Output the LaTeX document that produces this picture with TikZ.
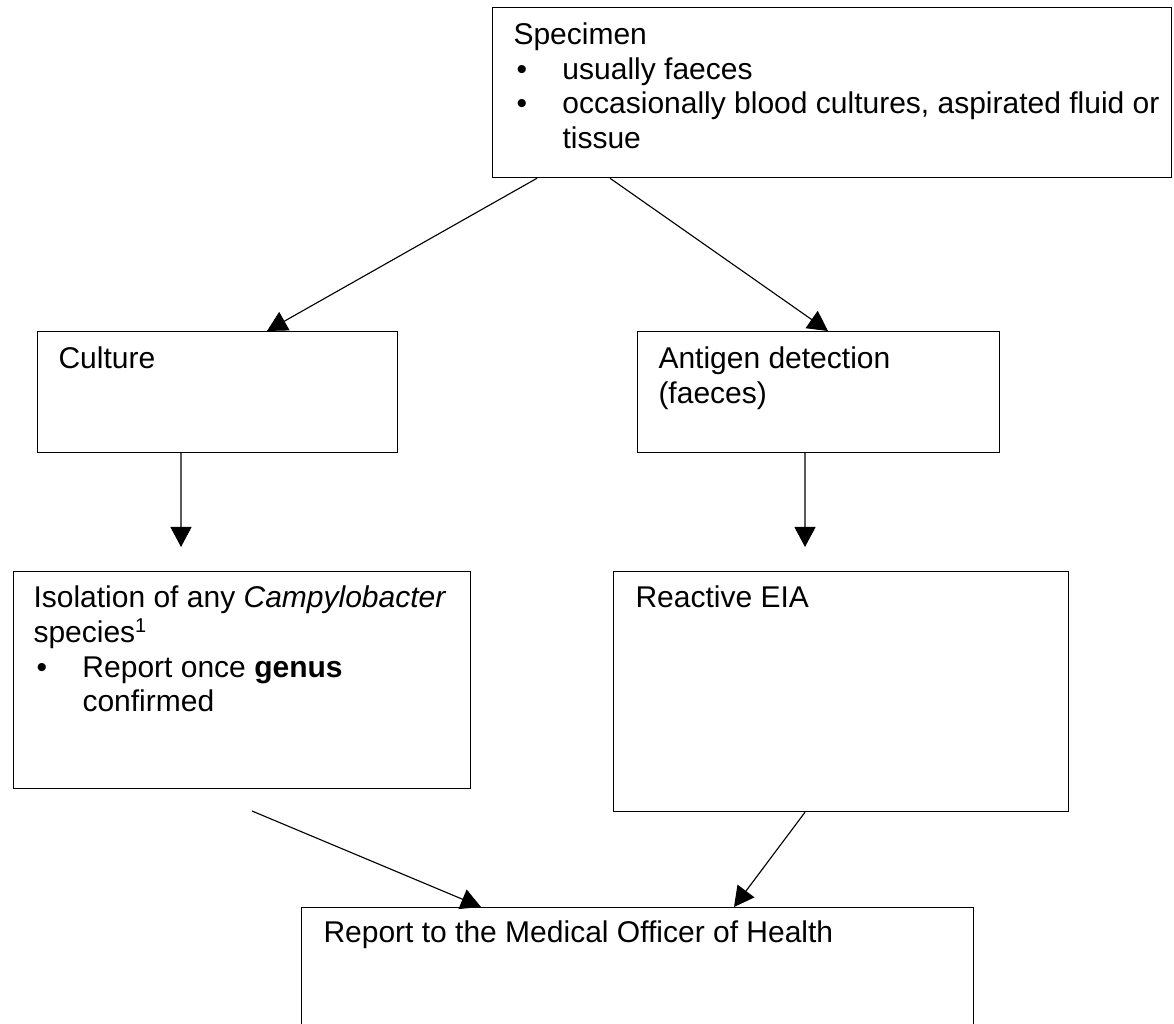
\documentclass[tikz,border=0pt]{standalone}
\usepackage{fontspec}
\setmainfont{Liberation Sans}
\usetikzlibrary{arrows.meta}
\newcommand\mybul{\makebox[19.6pt][l]{\hspace*{1.2pt}\textbullet}}
\begin{document}
\begin{tikzpicture}[x=0.4pt,y=-0.4pt,
  box/.style={draw=black, line width=0.5pt, rectangle, inner sep=0pt, anchor=north west},
  txt/.style={inner sep=0pt, anchor=base west, font=\fontsize{12}{13.8}\selectfont},
  arr/.style={line width=0.45pt, -{Triangle[length=8pt,width=8.4pt]}}]
\path[use as bounding box, clip] (0,0) rectangle (1174,1024);
\fill[white] (0,0) rectangle (1174,1024);

% boxes
\node[box, minimum width=271.6pt, minimum height=68pt] (spec) at (492,7) {};
\node[box, minimum width=144pt, minimum height=48.4pt] (culture) at (37,331) {};
\node[box, minimum width=144.8pt, minimum height=48.4pt] (antigen) at (637,331) {};
\node[box, minimum width=182.8pt, minimum height=86.8pt] (iso) at (13,571) {};
\node[box, minimum width=182pt, minimum height=96pt] (eia) at (613,571) {};
\node[box, minimum width=268.8pt, minimum height=60pt] (report) at (301,907) {};

% texts
\node[txt] (spect) at ([shift={(21,38)}]spec.north west) {\begin{tabular}[t]{@{}l@{}}Specimen\\
\mybul usually faeces\\
\mybul occasionally blood cultures, aspirated fluid or\\
\hspace*{19.6pt}tissue\end{tabular}};
\node[txt] (culturet) at ([shift={(21,38)}]culture.north west) {Culture};
\node[txt] (antigent) at ([shift={(21,38)}]antigen.north west) {\begin{tabular}[t]{@{}l@{}}Antigen detection\\ (faeces)\end{tabular}};
\node[txt] (isot) at ([shift={(20,37)}]iso.north west) {\begin{tabular}[t]{@{}l@{}}Isolation of any \textit{Campylobacter}\\
species\textsuperscript{1}\\
\mybul Report once \textbf{genus}\\
\hspace*{19.6pt}confirmed\end{tabular}};
\node[txt] (eiat) at ([shift={(22,37)}]eia.north west) {Reactive EIA};
\node[txt] (reportt) at ([shift={(22,36)}]report.north west) {Report to the Medical Officer of Health};

% connectors
\coordinate (free) at (252,811);
\draw[arr] ([xshift=18pt]spec.south west) -- ([xshift=92pt]culture.north west);
\draw[arr] ([xshift=47.2pt]spec.south west) -- ([xshift=76.4pt]antigen.north west);
\draw[arr, shorten >=9.6pt] ([xshift=57.6pt]culture.south west) -- ([xshift=67.2pt]iso.north west);
\draw[arr, shorten >=9.6pt] ([xshift=67.2pt]antigen.south west) -- ([xshift=76.8pt]eia.north west);
\draw[arr] (free) -- ([xshift=72pt]report.north west);
\draw[arr] ([xshift=76.8pt]eia.south west) -- ([xshift=173.2pt]report.north west);
\end{tikzpicture}
\end{document}
